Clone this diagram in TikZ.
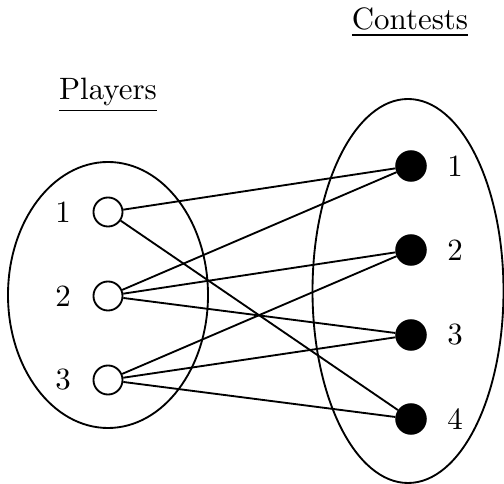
\documentclass[tikz,border=0pt]{standalone}
\begin{document}
\begin{tikzpicture}[x=0.3236pt,y=-0.3236pt,
  player/.style={circle,draw,line width=0.6pt,minimum size=9.4pt,inner sep=0pt,fill=white},
  contest/.style={circle,draw,line width=0.6pt,minimum size=9.6pt,inner sep=0pt,fill=black},
  link/.style={line width=0.6pt},
  lab/.style={inner sep=0pt}]
\useasboundingbox (0,0) rectangle (504,484);
\draw[line width=0.6pt] (108,295) ellipse[x radius=100, y radius=133];
\draw[line width=0.6pt] (408,291) ellipse[x radius=95.5, y radius=192];
\node[lab,anchor=base] (tp) at (108,100) {\underline{Players}};
\node[lab,anchor=base] (tc) at (410,30) {\underline{Contests}};
\node[player] (p1) at (108,212) {};
\node[player] (p2) at (108,296) {};
\node[player] (p3) at (108,380) {};
\node[contest] (c1) at (411,166) {};
\node[contest] (c2) at (411,250) {};
\node[contest] (c3) at (411,335) {};
\node[contest] (c4) at (411,419) {};
\node[lab] (lp1) at (63,212) {1};
\node[lab] (lp2) at (63,296) {2};
\node[lab] (lp3) at (63,380) {3};
\node[lab] (lc1) at (455,166) {1};
\node[lab] (lc2) at (455,250) {2};
\node[lab] (lc3) at (455,335) {3};
\node[lab] (lc4) at (455,419) {4};
\draw[link] (p1) -- (c1);
\draw[link] (p1) -- (c4);
\draw[link] (p2) -- (c1);
\draw[link] (p2) -- (c2);
\draw[link] (p2) -- (c3);
\draw[link] (p3) -- (c2);
\draw[link] (p3) -- (c3);
\draw[link] (p3) -- (c4);
\end{tikzpicture}
\end{document}
